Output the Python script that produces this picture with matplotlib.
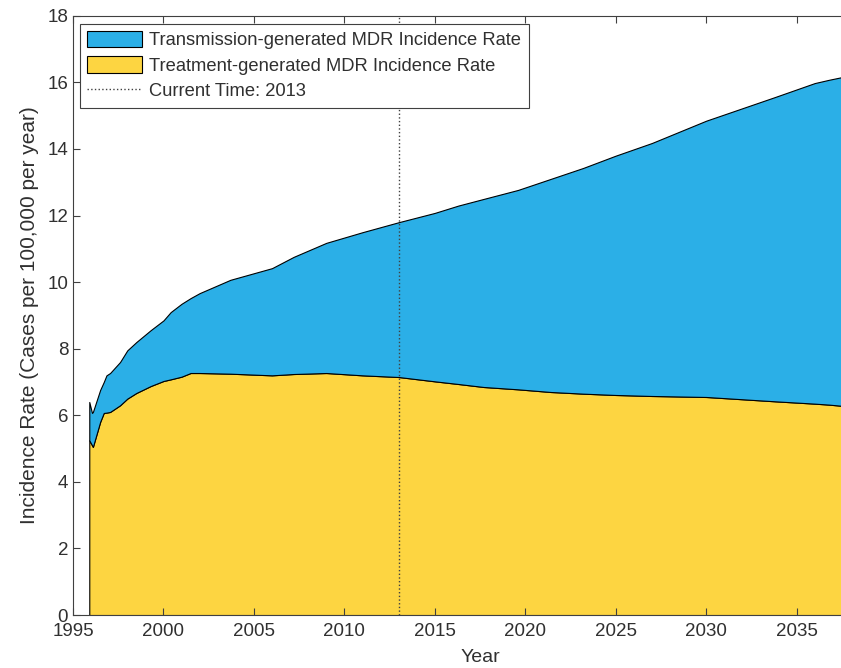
import numpy as np
import matplotlib.pyplot as plt

plt.rcParams['font.family'] = ['Liberation Sans', 'DejaVu Sans']

# model output, cases per 100,000 per year
years = [1995.9, 1996.05, 1996.1, 1996.5, 1996.7, 1996.85, 1997.05, 1997.6,
         1998.0, 1998.5, 1999.3, 2000.0, 2000.4, 2001.0, 2001.5, 2002.0,
         2003.7, 2006.0, 2007.2, 2009.0, 2011.0, 2013.0, 2015.0, 2016.3,
         2017.7, 2019.6, 2021.4, 2023.2, 2025.0, 2027.0, 2030.0, 2033.8,
         2036.0, 2036.8, 2037.6]
treatment = [5.25, 5.10, 5.05, 5.80, 6.07, 6.08, 6.10, 6.30,
             6.50, 6.67, 6.88, 7.03, 7.08, 7.16, 7.27, 7.27,
             7.25, 7.20, 7.24, 7.27, 7.20, 7.15, 7.02, 6.94,
             6.85, 6.78, 6.70, 6.65, 6.61, 6.58, 6.55, 6.42,
             6.35, 6.32, 6.28]
transmission = [1.15, 0.97, 1.05, 0.96, 0.93, 1.12, 1.17, 1.30,
                1.45, 1.53, 1.68, 1.82, 2.02, 2.19, 2.25, 2.40,
                2.82, 3.22, 3.52, 3.91, 4.30, 4.65, 5.06, 5.36,
                5.65, 5.99, 6.40, 6.78, 7.19, 7.60, 8.30, 9.14,
                9.63, 9.76, 9.89]
current_year = 2013

blue = '#2BAFE7'
yellow = '#FDD541'
ink = '#303030'

fig = plt.figure(figsize=(8.41, 6.68), dpi=100)
ax = fig.add_axes([0.0868, 0.0793, 0.968, 0.897])

polys = ax.stackplot(years, treatment, transmission, colors=[yellow, blue],
                     edgecolor='k', linewidth=0.8)
vline = ax.axvline(current_year, color='#404040', linestyle=':', linewidth=1.0)

ax.set_xlim(1995, 2040)
ax.set_ylim(0, 18)
ax.set_xticks(np.arange(1995, 2036, 5))
ax.set_yticks(np.arange(0, 19, 2))
ax.tick_params(direction='in', top=True, right=True, labelsize=13.5,
               length=5, color='#404040', labelcolor=ink)
ax.tick_params(axis='x', pad=6)
for sp in ax.spines.values():
    sp.set_color('#404040')
    sp.set_linewidth(0.8)

ax.set_xlabel('Year', fontsize=14, color=ink, labelpad=6)
ax.set_ylabel('Incidence Rate (Cases per 100,000 per year)', fontsize=15,
              color=ink, labelpad=6)

leg = ax.legend([polys[1], polys[0], vline],
                ['Transmission-generated MDR Incidence Rate',
                 'Treatment-generated MDR Incidence Rate',
                 'Current Time: 2013'],
                loc='upper left', bbox_to_anchor=(0.008, 0.987), fontsize=13.2,
                fancybox=False, framealpha=1, edgecolor='#404040',
                handlelength=3.0, handleheight=1.0, borderpad=0.4,
                labelspacing=0.38, handletextpad=0.4, borderaxespad=0)
leg.get_frame().set_linewidth(0.8)
for t in leg.get_texts():
    t.set_color(ink)

fig.savefig('out.png', dpi=100)
